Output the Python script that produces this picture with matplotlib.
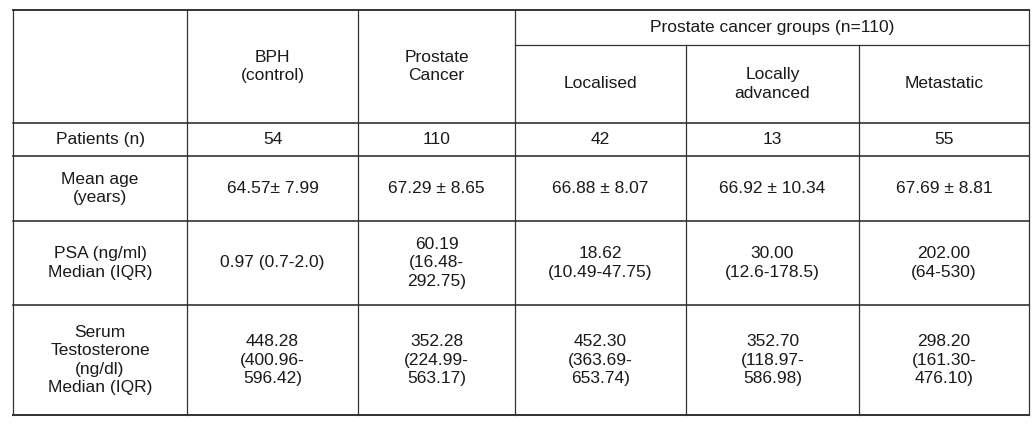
import matplotlib.pyplot as plt

# contenido de la tabla
group_header = 'Prostate cancer groups (n=110)'
col_headers = ['', 'BPH\n(control)', 'Prostate\nCancer', 'Localised', 'Locally\nadvanced', 'Metastatic']
row_labels = ['Patients (n)', 'Mean age\n(years)', 'PSA (ng/ml)\nMedian (IQR)',
              'Serum\nTestosterone\n(ng/dl)\nMedian (IQR)']
patients = ['54', '110', '42', '13', '55']
mean_age = ['64.57± 7.99', '67.29 ± 8.65', '66.88 ± 8.07', '66.92 ± 10.34', '67.69 ± 8.81']
psa = ['0.97 (0.7-2.0)', '60.19\n(16.48-\n292.75)', '18.62\n(10.49-47.75)',
       '30.00\n(12.6-178.5)', '202.00\n(64-530)']
testo = ['448.28\n(400.96-\n596.42)', '352.28\n(224.99-\n563.17)', '452.30\n(363.69-\n653.74)',
         '352.70\n(118.97-\n586.98)', '298.20\n(161.30-\n476.10)']

# geometria en pixeles
xs = [13, 187, 358, 515, 686, 859, 1029]
ys = [10, 45, 123, 156, 221, 305, 415]

fig = plt.figure(figsize=(10.36, 4.26), dpi=100)
ax = fig.add_axes([0, 0, 1, 1])
ax.set_xlim(0, 1036)
ax.set_ylim(426, 0)
ax.axis('off')

lc = '#333333'
fs = 12.5
ls = 1.3
fam = 'Liberation Sans'
tc = '#1a1a1a'

# lineas horizontales
ax.plot([xs[0], xs[-1]], [ys[0], ys[0]], color=lc, lw=1.4)
ax.plot([xs[3], xs[-1]], [ys[1], ys[1]], color=lc, lw=0.9)
for y in ys[2:-1]:
    ax.plot([xs[0], xs[-1]], [y, y], color=lc, lw=1.2)
ax.plot([xs[0], xs[-1]], [ys[-1], ys[-1]], color=lc, lw=1.4)

# lineas verticales
for i, x in enumerate(xs):
    top = ys[1] if i in (4, 5) else ys[0]
    ax.plot([x, x], [top, ys[-1]], color=lc, lw=0.9)

def cx(i):
    return (xs[i] + xs[i + 1]) / 2

# encabezados
ax.text((xs[3] + xs[-1]) / 2, (ys[0] + ys[1]) / 2, group_header,
        ha='center', va='center', fontsize=fs, family=fam, color=tc)
for i, h in enumerate(col_headers):
    y0 = ys[1] if i >= 3 else ys[0]
    ax.text(cx(i), (y0 + ys[2]) / 2, h, ha='center', va='center',
            fontsize=fs, family=fam, linespacing=ls, color=tc)

# cuerpo
rows = [patients, mean_age, psa, testo]
for r, vals in enumerate(rows):
    yc = (ys[2 + r] + ys[3 + r]) / 2
    ax.text(cx(0), yc, row_labels[r], ha='center', va='center',
            fontsize=fs, family=fam, linespacing=ls, color=tc)
    for c, v in enumerate(vals):
        ax.text(cx(c + 1), yc, v, ha='center', va='center',
                fontsize=fs, family=fam, linespacing=ls, color=tc)

fig.savefig('out.png', dpi=100, facecolor='white')
